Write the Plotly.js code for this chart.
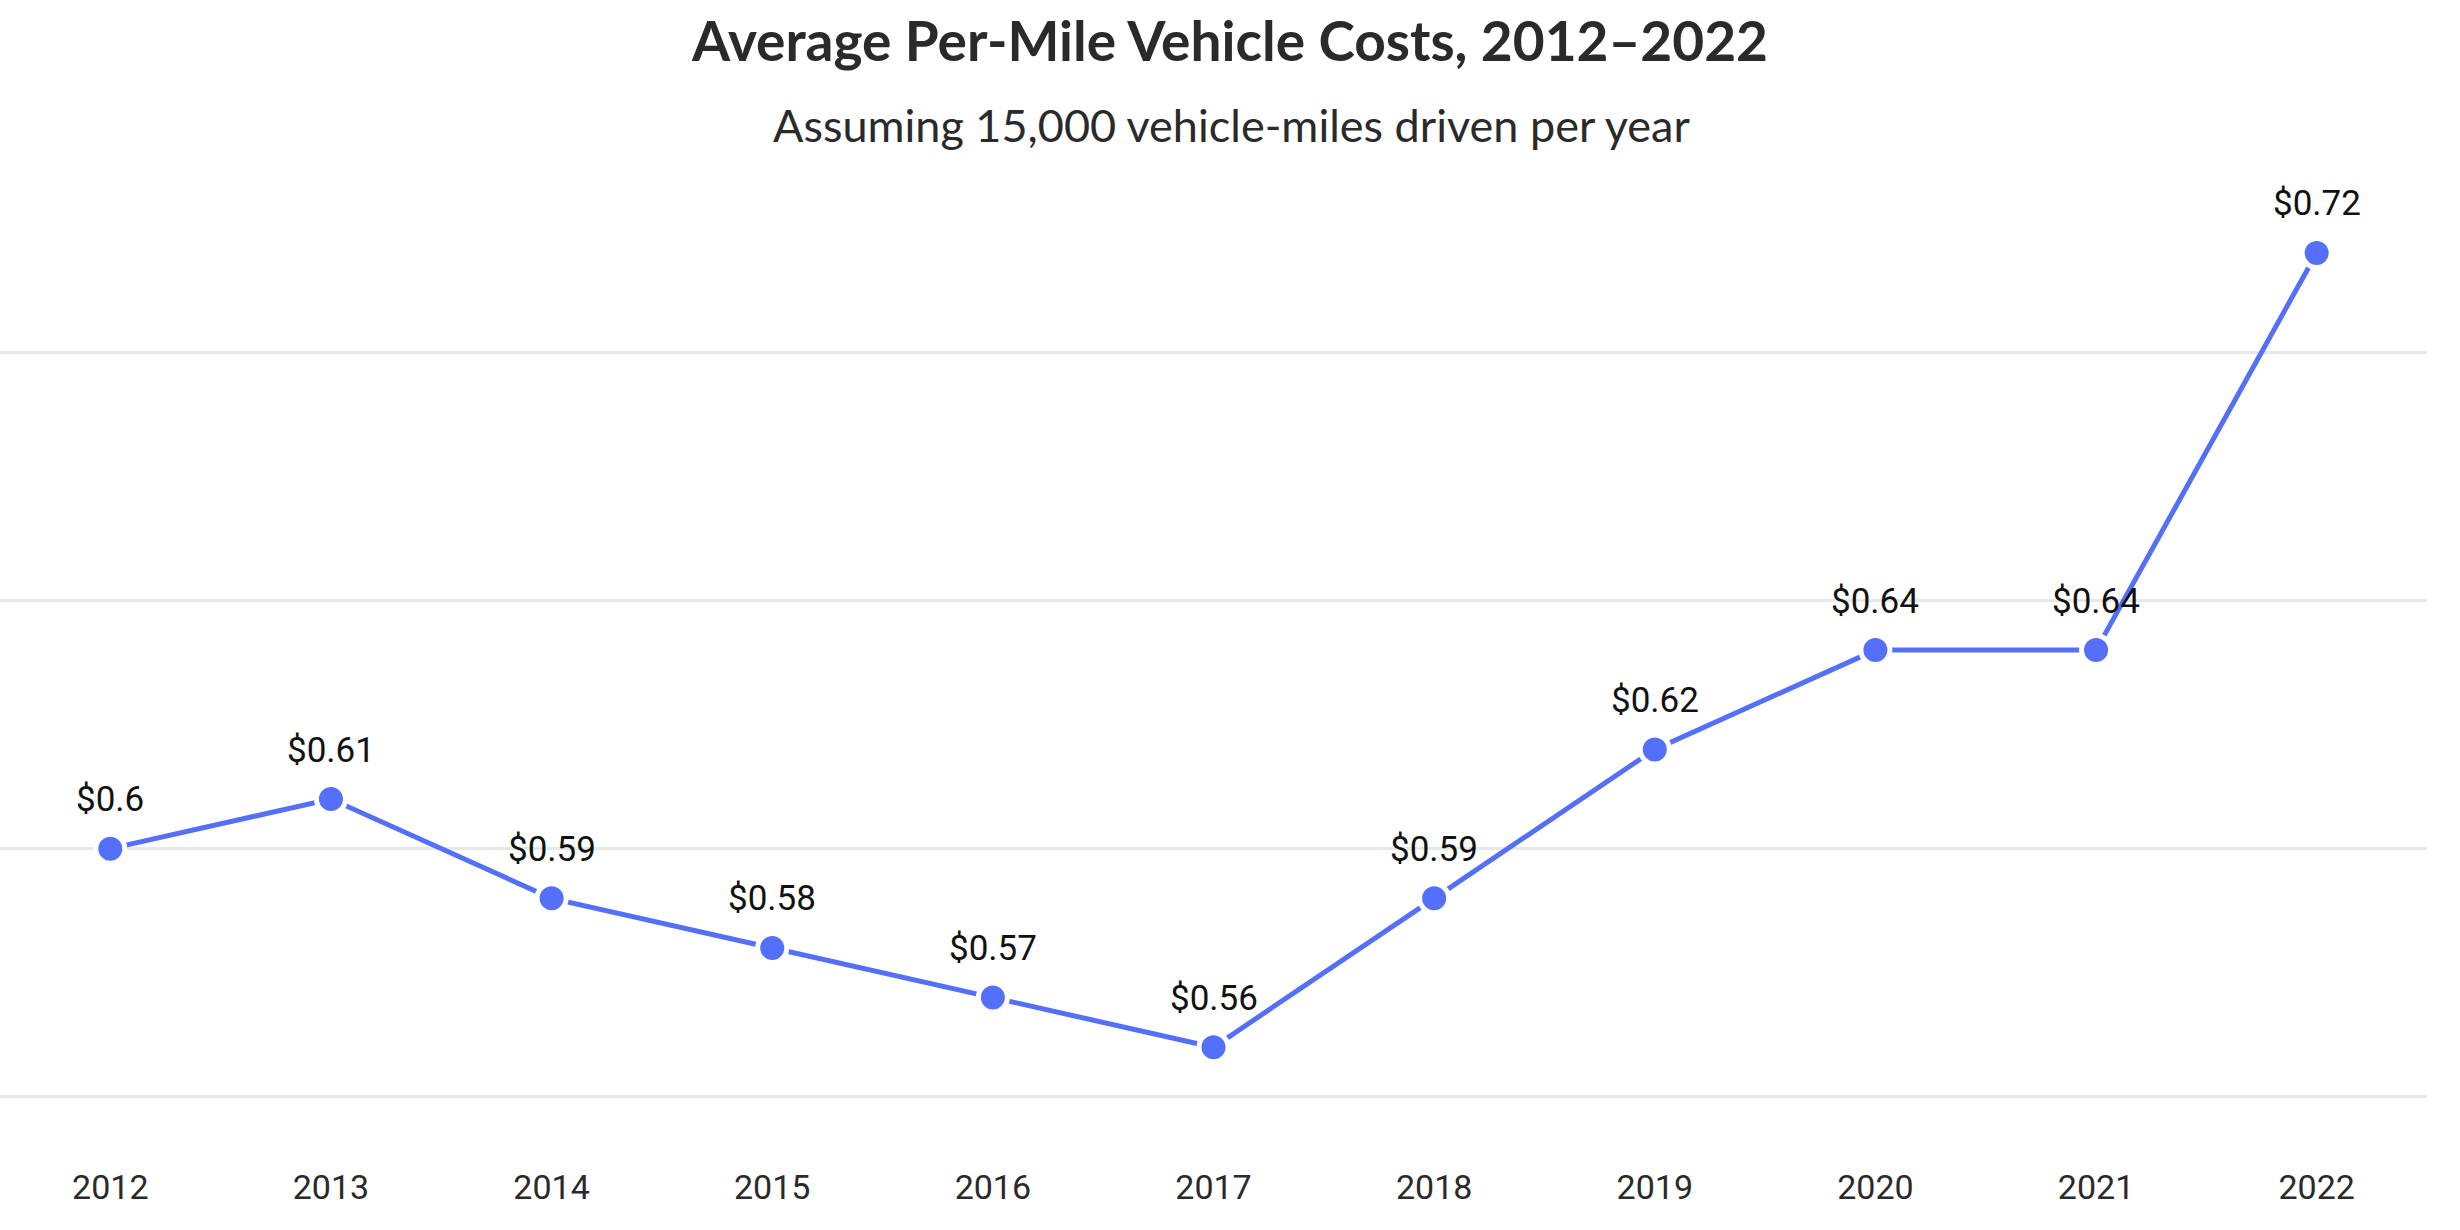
<!DOCTYPE html>
<html>
<head>
<meta charset="utf-8">
<script src="https://cdn.plot.ly/plotly-3.0.1.min.js"></script>
<style>
  html, body { margin: 0; padding: 0; background: #fff; }
  #chart { width: 2460px; height: 1230px; }
</style>
</head>
<body>
<div id="chart"></div>
<script>
const years = [2012, 2013, 2014, 2015, 2016, 2017, 2018, 2019, 2020, 2021, 2022]
const costPerMile = [0.6, 0.61, 0.59, 0.58, 0.57, 0.56, 0.59, 0.62, 0.64, 0.64, 0.72]

const chartTitle = 'Average Per-Mile Vehicle Costs, 2012–2022'
const chartSubtitle = 'Assuming 15,000 vehicle-miles driven per year'

const lineColor = '#5470fa'

window.addEventListener('DOMContentLoaded', () => {
    plotCosts()
})

function plotCosts() {
    let target = document.getElementById('chart')
    const data = [{
        type: 'scatter',
        mode: 'lines+markers',
        x: years,
        y: costPerMile,
        line: {color: lineColor, width: 5},
        marker: {color: lineColor, size: 29, line: {color: '#fff', width: 5}},
        cliponaxis: false,
        hoverinfo: 'x+y'
    }]

    // value labels above each point
    let labels = years.map((yr, i) => ({
        x: yr,
        y: costPerMile[i],
        text: '$' + costPerMile[i],
        xref: 'x',
        yref: 'y',
        showarrow: false,
        xanchor: 'center',
        yanchor: 'middle',
        yshift: 49,
        font: {family: 'Roboto, sans-serif', size: 35, color: '#111'}
    }))

    const layout = {
        width: 2460,
        height: 1230,
        margin: {l: 0, r: 33, t: 180, b: 80},
        paper_bgcolor: '#fff',
        plot_bgcolor: '#fff',
        showlegend: false,
        title: {
            text: chartTitle,
            font: {family: 'Lato, sans-serif', size: 55, color: '#2a2a2a', weight: 700},
            x: 0.5,
            xref: 'container',
            xanchor: 'center',
            y: 1 - 42 / 1230,
            yref: 'container',
            yanchor: 'middle'
        },
        annotations: [{
            text: chartSubtitle,
            xref: 'paper',
            yref: 'paper',
            x: 1231 / 2427,
            y: (1150 - 125) / 970,
            xanchor: 'center',
            yanchor: 'middle',
            showarrow: false,
            font: {family: 'Lato, sans-serif', size: 45, color: '#2a2a2a'}
        }].concat(labels),
        xaxis: {
            range: [2011.5, 2022.5],
            tickvals: years,
            ticktext: years.map(String),
            showgrid: false,
            zeroline: false,
            showline: false,
            ticks: '',
            ticklabelstandoff: 14,
            tickfont: {family: 'Roboto, sans-serif', size: 34, color: '#2a2a2a'}
        },
        yaxis: {
            range: [0.5393, 0.7347],
            tick0: 0,
            dtick: 0.05,
            showticklabels: false,
            gridcolor: '#e8e8e8',
            gridwidth: 3,
            zeroline: false,
            showline: false,
            ticks: ''
        }
    }
    const config = {staticPlot: true}
    Plotly.newPlot(target, data, layout, config)
}
</script>
</body>
</html>
